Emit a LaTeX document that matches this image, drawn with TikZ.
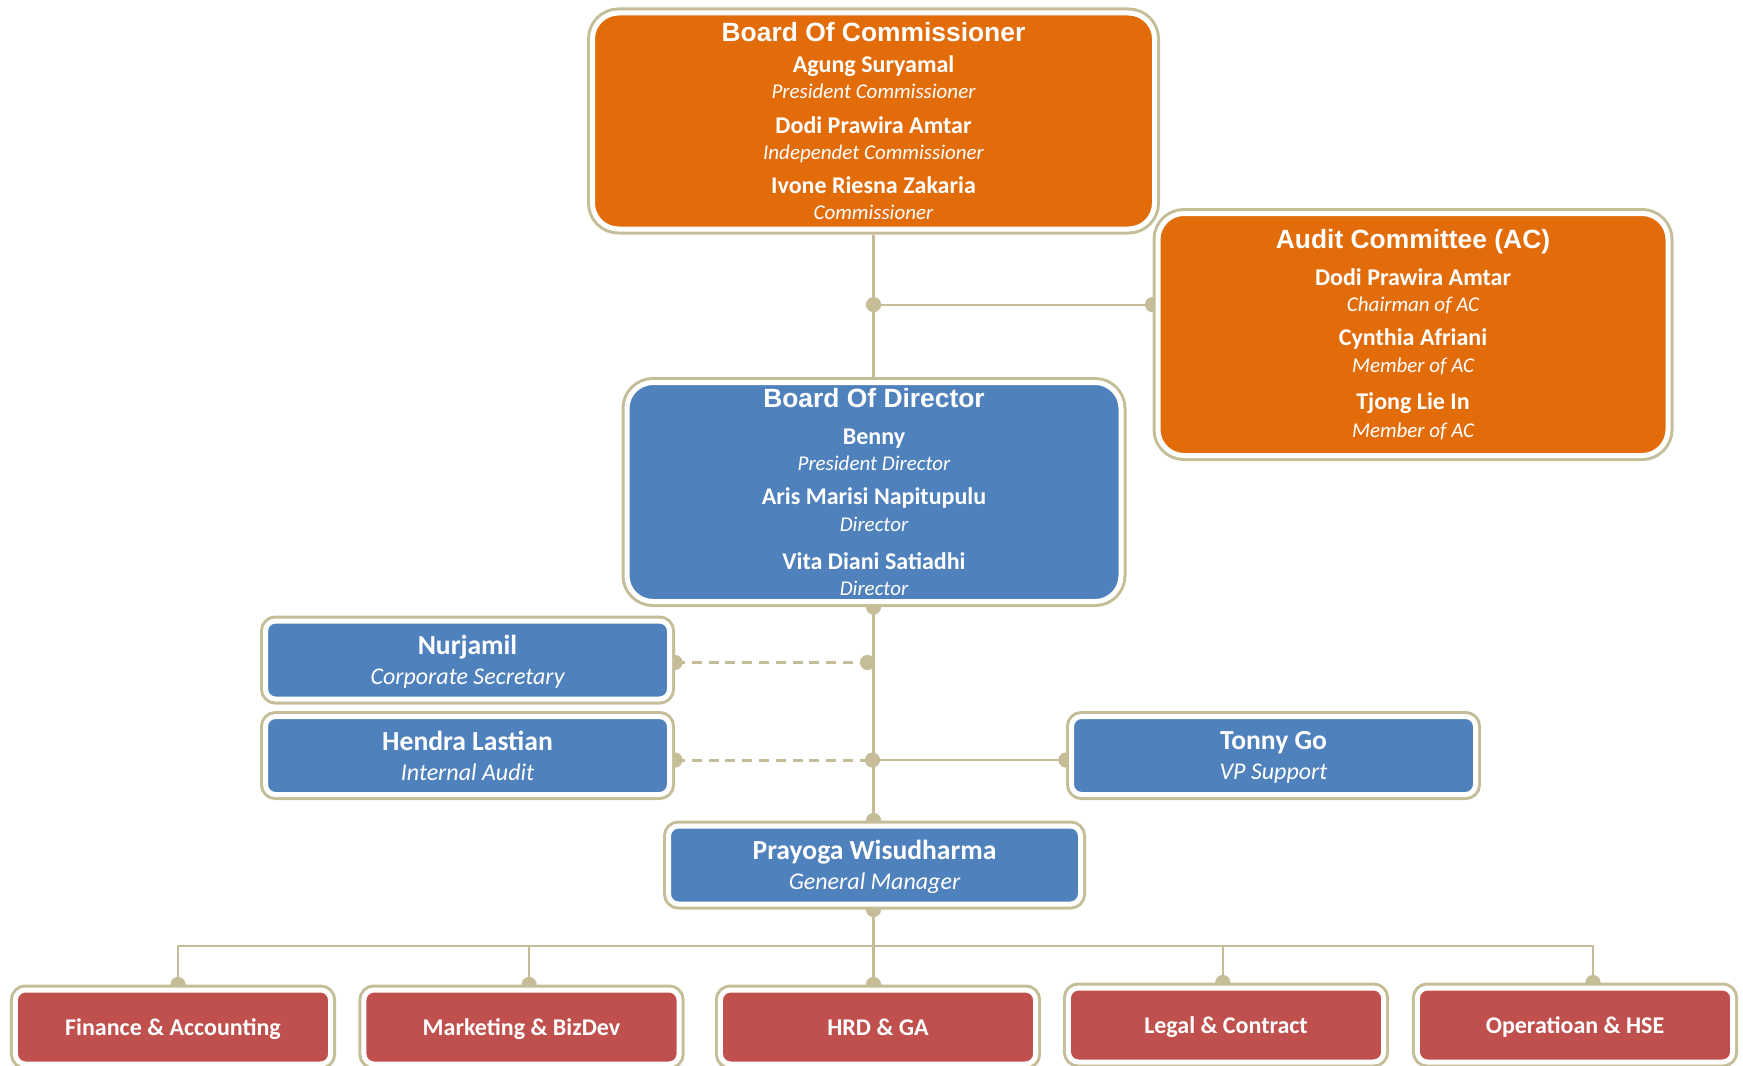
\documentclass[tikz,border=0pt]{standalone}
\usepackage{fontspec}
\setmainfont{Carlito}
\newfontfamily\headfont{Liberation Sans}
\usetikzlibrary{backgrounds}

\definecolor{boardorange}{HTML}{E36C0A}
\definecolor{dirblue}{HTML}{4F81BD}
\definecolor{deptred}{HTML}{C0504D}
\definecolor{framecol}{HTML}{C4BD97}

\newcommand{\boxhead}[1]{{\headfont\bfseries\fontsize{13.2}{15}\selectfont #1}}
\newcommand{\pname}[1]{{\bfseries\fontsize{12}{13.3}\selectfont #1}}
\newcommand{\prole}[1]{{\itshape\fontsize{10.5}{13.3}\selectfont #1}}
\newcommand{\sname}[1]{{\bfseries\fontsize{13.8}{15}\selectfont #1}}
\newcommand{\srole}[1]{{\itshape\fontsize{12}{15}\selectfont #1}}

\tikzset{
    orgbox/.style={rectangle, draw=white, line width=2.5pt,
        preaction={draw=framecol, line width=5.5pt},
        outer sep=2.75pt, inner sep=0pt, align=center, text=white},
    bigbox/.style={orgbox, rounded corners=13pt, font=\fontsize{12}{13.3}\selectfont},
    sidebox/.style={orgbox, rounded corners=5pt, font=\fontsize{12}{15}\selectfont,
        text depth=0pt, minimum width=202pt, minimum height=39pt},
    deptbox/.style={orgbox, rounded corners=5pt, fill=deptred,
        font=\bfseries\fontsize{12}{14}\selectfont, text height=8pt, text depth=0pt,
        minimum width=157.6pt, minimum height=37pt},
    link/.style={draw=framecol, line width=1.1pt},
    dotted link/.style={link, line width=1.5pt, dash pattern=on 5pt off 3.4pt},
}

\begin{document}
\begin{tikzpicture}[x=0.5pt, y=-0.5pt]
    \useasboundingbox (0,0) rectangle (1743,1065);

    % boards
    \node[bigbox, fill=boardorange, minimum width=281pt, minimum height=108pt] (boc) at (873.5,121) {%
        \boxhead{Board Of Commissioner}\\[2.3pt]
        \pname{Agung Suryamal}\\
        \prole{President Commissioner}\\[3.8pt]
        \pname{Dodi Prawira Amtar}\\
        \prole{Independet Commissioner}\\[3.5pt]
        \pname{Ivone Riesna Zakaria}\\
        \prole{Commissioner}};
    \node[bigbox, fill=boardorange, minimum width=255pt, minimum height=121pt] (ac) at (1413,334.5) {%
        \boxhead{Audit Committee (AC)}\\[5pt]
        \pname{Dodi Prawira Amtar}\\
        \prole{Chairman of AC}\\[3.4pt]
        \pname{Cynthia Afriani}\\[0.6pt]
        \prole{Member of AC}\\[5pt]
        \pname{Tjong Lie In}\\[0.6pt]
        \prole{Member of AC}};
    \node[bigbox, fill=dirblue, minimum width=247pt, minimum height=109.5pt] (bod) at (874,492) {%
        \boxhead{Board Of Director}\\[5.6pt]
        \pname{Benny}\\[-0.5pt]
        \prole{President Director}\\[3.9pt]
        \pname{Aris Marisi Napitupulu}\\
        \prole{Director}\\[5.6pt]
        \pname{Vita Diani Satiadhi}\\
        \prole{Director}};

    % staff under the directors
    \node[sidebox, fill=dirblue] (sec) at (467.5,660) {\sname{Nurjamil}\\ \srole{Corporate Secretary}};
    \node[sidebox, fill=dirblue] (ia) at (467.5,755.5) {\sname{Hendra Lastian}\\ \srole{Internal Audit}};
    \node[sidebox, fill=dirblue] (vps) at (1273.5,755.5) {\sname{Tonny Go}\\ \srole{VP Support}};
    \node[sidebox, fill=dirblue, minimum width=206pt] (gm) at (874.5,865) {\sname{Prayoga Wisudharma}\\ \srole{General Manager}};

    % departments
    \node[deptbox] (fin) at (173,1027) {Finance \& Accounting};
    \node[deptbox] (mkt) at (521.5,1027) {Marketing \& BizDev};
    \node[deptbox] (hrd) at (878,1027) {HRD \& GA};
    \node[deptbox] (legal) at (1226,1025) {Legal \& Contract};
    \node[deptbox] (ops) at (1575,1025) {Operatioan \& HSE};

    \coordinate (acjoin) at (873.5,304.6);
    \coordinate (secjoin) at (867.5,662.5);
    \coordinate (iajoin) at (872.5,760);
    \coordinate (deptbus) at (873.5,946);

    \begin{scope}[on background layer]
        \draw[link] (boc.south -| acjoin) -- (bod.north -| acjoin);
        \draw[link] (acjoin) -- (ac.west |- acjoin);
        \draw[link] (bod.south -| acjoin) -- (gm.north -| acjoin);
        \draw[dotted link] (sec.east |- secjoin) -- (secjoin);
        \draw[dotted link] (ia.east |- iajoin) -- (iajoin);
        \draw[link] (iajoin) -- (vps.west |- iajoin);
        \draw[link] (gm.south -| deptbus) -- (deptbus);
        \draw[link] ([xshift=2.5pt]fin.north) |- (deptbus);
        \draw[link] ([xshift=3.8pt]mkt.north) |- (deptbus);
        \draw[link] (deptbus) -- (hrd.north -| deptbus);
        \draw[link] ([xshift=-1.6pt]legal.north) |- (deptbus);
        \draw[link] ([xshift=9pt]ops.north) |- (deptbus);

        \fill[framecol] (acjoin) circle (3.8pt) (ac.west |- acjoin) circle (3.8pt);
        \fill[framecol] (bod.south -| acjoin) circle (3.8pt) (gm.north -| acjoin) circle (3.8pt);
        \fill[framecol] (sec.east |- secjoin) circle (3.8pt) (secjoin) circle (3.8pt);
        \fill[framecol] (ia.east |- iajoin) circle (3.8pt) (iajoin) circle (3.8pt) (vps.west |- iajoin) circle (3.8pt);
        \fill[framecol] (gm.south -| deptbus) circle (3.8pt);
        \fill[framecol] ([xshift=2.5pt]fin.north) circle (3.8pt) ([xshift=3.8pt]mkt.north) circle (3.8pt)
            (hrd.north -| deptbus) circle (3.8pt) ([xshift=-1.6pt]legal.north) circle (3.8pt)
            ([xshift=9pt]ops.north) circle (3.8pt);
    \end{scope}
\end{tikzpicture}
\end{document}
